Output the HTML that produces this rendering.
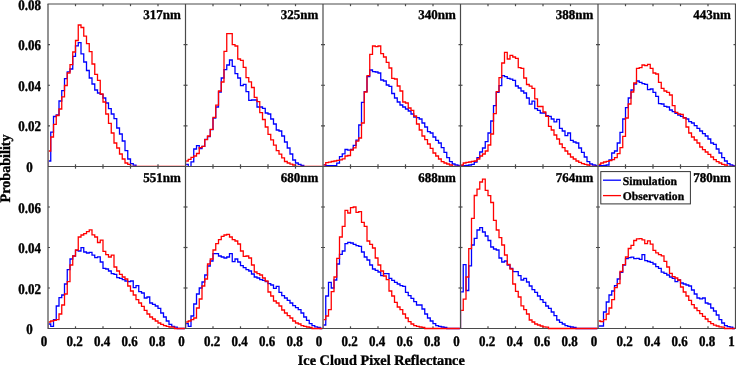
<!DOCTYPE html>
<html><head><meta charset="utf-8"><style>
html,body{margin:0;padding:0;background:#fff;overflow:hidden;}
svg{display:block;will-change:transform;}
text{font-family:"Liberation Serif",serif;font-weight:bold;fill:#000;stroke:#000;stroke-width:0.35px;text-rendering:geometricPrecision;}
.tk{font-size:13px;}
.lab{font-size:14.6px;}
.lg{font-size:11.8px;}
</style></head><body>
<svg width="736" height="365" viewBox="0 0 736 365">
<defs><clipPath id="c0"><rect x="48.65" y="4.0" width="136.2" height="163.0"/></clipPath>
<clipPath id="c1"><rect x="186.15" y="4.0" width="136.2" height="163.0"/></clipPath>
<clipPath id="c2"><rect x="323.65" y="4.0" width="136.2" height="163.0"/></clipPath>
<clipPath id="c3"><rect x="461.15" y="4.0" width="136.2" height="163.0"/></clipPath>
<clipPath id="c4"><rect x="598.65" y="4.0" width="136.2" height="163.0"/></clipPath>
<clipPath id="c5"><rect x="48.65" y="166.5" width="136.2" height="163.5"/></clipPath>
<clipPath id="c6"><rect x="186.15" y="166.5" width="136.2" height="163.5"/></clipPath>
<clipPath id="c7"><rect x="323.65" y="166.5" width="136.2" height="163.5"/></clipPath>
<clipPath id="c8"><rect x="461.15" y="166.5" width="136.2" height="163.5"/></clipPath>
<clipPath id="c9"><rect x="598.65" y="166.5" width="136.2" height="163.5"/></clipPath></defs>
<g>
<rect width="736" height="365" fill="#fff"/>
<line x1="48" y1="328.5" x2="735.5" y2="328.5" stroke="#4a4a4a" stroke-width="1.2"/>
<line x1="75.5" y1="328.5" x2="75.5" y2="326.3" stroke="#4a4a4a" stroke-width="1.2"/>
<line x1="103.0" y1="328.5" x2="103.0" y2="326.3" stroke="#4a4a4a" stroke-width="1.2"/>
<line x1="130.5" y1="328.5" x2="130.5" y2="326.3" stroke="#4a4a4a" stroke-width="1.2"/>
<line x1="158.0" y1="328.5" x2="158.0" y2="326.3" stroke="#4a4a4a" stroke-width="1.2"/>
<line x1="213.0" y1="328.5" x2="213.0" y2="326.3" stroke="#4a4a4a" stroke-width="1.2"/>
<line x1="240.5" y1="328.5" x2="240.5" y2="326.3" stroke="#4a4a4a" stroke-width="1.2"/>
<line x1="268.0" y1="328.5" x2="268.0" y2="326.3" stroke="#4a4a4a" stroke-width="1.2"/>
<line x1="295.5" y1="328.5" x2="295.5" y2="326.3" stroke="#4a4a4a" stroke-width="1.2"/>
<line x1="350.5" y1="328.5" x2="350.5" y2="326.3" stroke="#4a4a4a" stroke-width="1.2"/>
<line x1="378.0" y1="328.5" x2="378.0" y2="326.3" stroke="#4a4a4a" stroke-width="1.2"/>
<line x1="405.5" y1="328.5" x2="405.5" y2="326.3" stroke="#4a4a4a" stroke-width="1.2"/>
<line x1="433.0" y1="328.5" x2="433.0" y2="326.3" stroke="#4a4a4a" stroke-width="1.2"/>
<line x1="488.0" y1="328.5" x2="488.0" y2="326.3" stroke="#4a4a4a" stroke-width="1.2"/>
<line x1="515.5" y1="328.5" x2="515.5" y2="326.3" stroke="#4a4a4a" stroke-width="1.2"/>
<line x1="543.0" y1="328.5" x2="543.0" y2="326.3" stroke="#4a4a4a" stroke-width="1.2"/>
<line x1="570.5" y1="328.5" x2="570.5" y2="326.3" stroke="#4a4a4a" stroke-width="1.2"/>
<line x1="625.5" y1="328.5" x2="625.5" y2="326.3" stroke="#4a4a4a" stroke-width="1.2"/>
<line x1="653.0" y1="328.5" x2="653.0" y2="326.3" stroke="#4a4a4a" stroke-width="1.2"/>
<line x1="680.5" y1="328.5" x2="680.5" y2="326.3" stroke="#4a4a4a" stroke-width="1.2"/>
<line x1="708.0" y1="328.5" x2="708.0" y2="326.3" stroke="#4a4a4a" stroke-width="1.2"/>
<g clip-path="url(#c0)">
<polyline points="48.00,166.60 48.00,161.00 50.75,161.00 50.75,132.20 53.50,132.20 53.50,116.50 56.25,116.50 56.25,115.00 59.00,115.00 59.00,101.00 61.75,101.00 61.75,90.60 64.50,90.60 64.50,78.70 67.25,78.70 67.25,71.80 70.00,71.80 70.00,69.00 72.75,69.00 72.75,56.40 75.50,56.40 75.50,45.90 78.25,45.90 78.25,42.60 81.00,42.60 81.00,53.80 83.75,53.80 83.75,62.00 86.50,62.00 86.50,70.50 89.25,70.50 89.25,78.00 92.00,78.00 92.00,84.00 94.75,84.00 94.75,90.00 97.50,90.00 97.50,93.00 100.25,93.00 100.25,94.40 103.00,94.40 103.00,98.00 105.75,98.00 105.75,103.00 108.50,103.00 108.50,108.70 111.25,108.70 111.25,114.00 114.00,114.00 114.00,118.70 116.75,118.70 116.75,128.00 119.50,128.00 119.50,134.00 122.25,134.00 122.25,141.00 125.00,141.00 125.00,150.60 127.75,150.60 127.75,159.00 130.50,159.00 130.50,163.60 133.25,163.60 133.25,165.20 136.00,165.20 136.00,166.60 138.75,166.60 138.75,166.60 141.50,166.60 141.50,166.60 144.25,166.60 144.25,166.60 147.00,166.60 147.00,166.60 149.75,166.60 149.75,166.60 152.50,166.60 152.50,166.60 155.25,166.60 155.25,166.60 158.00,166.60 158.00,166.60 160.75,166.60 160.75,166.60 163.50,166.60 163.50,166.60 166.25,166.60 166.25,166.60 169.00,166.60 169.00,166.60 171.75,166.60 171.75,166.60 174.50,166.60 174.50,166.60 177.25,166.60 177.25,166.60 180.00,166.60 180.00,166.60 182.75,166.60 182.75,166.60 185.50,166.60 185.50,166.60" fill="none" stroke="#0000ff" stroke-width="1.3" stroke-linejoin="miter" stroke-miterlimit="10"/>
<polyline points="48.00,166.30 48.00,151.00 50.75,151.00 50.75,137.00 53.50,137.00 53.50,124.40 56.25,124.40 56.25,115.50 59.00,115.50 59.00,109.00 61.75,109.00 61.75,96.80 64.50,96.80 64.50,85.50 67.25,85.50 67.25,73.00 70.00,73.00 70.00,64.60 72.75,64.60 72.75,52.00 75.50,52.00 75.50,40.50 78.25,40.50 78.25,25.00 81.00,25.00 81.00,27.50 83.75,27.50 83.75,36.20 86.50,36.20 86.50,43.60 89.25,43.60 89.25,51.60 92.00,51.60 92.00,64.00 94.75,64.00 94.75,74.40 97.50,74.40 97.50,80.40 100.25,80.40 100.25,94.00 103.00,94.00 103.00,102.00 105.75,102.00 105.75,114.00 108.50,114.00 108.50,123.30 111.25,123.30 111.25,133.00 114.00,133.00 114.00,143.00 116.75,143.00 116.75,148.00 119.50,148.00 119.50,154.00 122.25,154.00 122.25,159.00 125.00,159.00 125.00,163.00 127.75,163.00 127.75,164.40 130.50,164.40 130.50,166.30 133.25,166.30 133.25,166.30 136.00,166.30 136.00,166.30 138.75,166.30 138.75,166.30 141.50,166.30 141.50,166.30 144.25,166.30 144.25,166.30 147.00,166.30 147.00,166.30 149.75,166.30 149.75,166.30 152.50,166.30 152.50,166.30 155.25,166.30 155.25,166.30 158.00,166.30 158.00,166.30 160.75,166.30 160.75,166.30 163.50,166.30 163.50,166.30 166.25,166.30 166.25,166.30 169.00,166.30 169.00,166.30 171.75,166.30 171.75,166.30 174.50,166.30 174.50,166.30 177.25,166.30 177.25,166.30 180.00,166.30 180.00,166.30 182.75,166.30 182.75,166.30 185.50,166.30 185.50,166.30" fill="none" stroke="#ff0000" stroke-width="1.3" stroke-linejoin="miter" stroke-miterlimit="10"/>
</g>
<g clip-path="url(#c1)">
<polyline points="185.50,166.60 185.50,164.40 188.25,164.40 188.25,166.60 191.00,166.60 191.00,161.80 193.75,161.80 193.75,149.00 196.50,149.00 196.50,145.70 199.25,145.70 199.25,148.60 202.00,148.60 202.00,146.40 204.75,146.40 204.75,139.30 207.50,139.30 207.50,136.70 210.25,136.70 210.25,129.70 213.00,129.70 213.00,118.20 215.75,118.20 215.75,107.00 218.50,107.00 218.50,92.00 221.25,92.00 221.25,78.00 224.00,78.00 224.00,69.60 226.75,69.60 226.75,65.00 229.50,65.00 229.50,60.00 232.25,60.00 232.25,66.40 235.00,66.40 235.00,73.60 237.75,73.60 237.75,78.00 240.50,78.00 240.50,85.60 243.25,85.60 243.25,84.40 246.00,84.40 246.00,91.60 248.75,91.60 248.75,100.40 251.50,100.40 251.50,100.00 254.25,100.00 254.25,100.00 257.00,100.00 257.00,107.00 259.75,107.00 259.75,107.00 262.50,107.00 262.50,108.40 265.25,108.40 265.25,113.00 268.00,113.00 268.00,114.00 270.75,114.00 270.75,119.00 273.50,119.00 273.50,124.00 276.25,124.00 276.25,130.00 279.00,130.00 279.00,131.00 281.75,131.00 281.75,136.00 284.50,136.00 284.50,142.00 287.25,142.00 287.25,148.00 290.00,148.00 290.00,154.00 292.75,154.00 292.75,160.00 295.50,160.00 295.50,163.00 298.25,163.00 298.25,164.40 301.00,164.40 301.00,165.40 303.75,165.40 303.75,166.60 306.50,166.60 306.50,166.60 309.25,166.60 309.25,166.60 312.00,166.60 312.00,166.60 314.75,166.60 314.75,166.60 317.50,166.60 317.50,166.60 320.25,166.60 320.25,166.60 323.00,166.60 323.00,166.60" fill="none" stroke="#0000ff" stroke-width="1.3" stroke-linejoin="miter" stroke-miterlimit="10"/>
<polyline points="185.50,166.30 185.50,161.00 188.25,161.00 188.25,159.30 191.00,159.30 191.00,157.30 193.75,157.30 193.75,156.00 196.50,156.00 196.50,153.50 199.25,153.50 199.25,147.70 202.00,147.70 202.00,146.40 204.75,146.40 204.75,139.60 207.50,139.60 207.50,136.00 210.25,136.00 210.25,129.30 213.00,129.30 213.00,117.30 215.75,117.30 215.75,105.10 218.50,105.10 218.50,91.00 221.25,91.00 221.25,82.00 224.00,82.00 224.00,51.40 226.75,51.40 226.75,33.60 229.50,33.60 229.50,33.60 232.25,33.60 232.25,44.60 235.00,44.60 235.00,46.00 237.75,46.00 237.75,59.00 240.50,59.00 240.50,60.40 243.25,60.40 243.25,67.40 246.00,67.40 246.00,77.60 248.75,77.60 248.75,81.80 251.50,81.80 251.50,87.50 254.25,87.50 254.25,97.30 257.00,97.30 257.00,101.60 259.75,101.60 259.75,112.70 262.50,112.70 262.50,119.50 265.25,119.50 265.25,127.00 268.00,127.00 268.00,134.40 270.75,134.40 270.75,139.80 273.50,139.80 273.50,145.20 276.25,145.20 276.25,150.60 279.00,150.60 279.00,154.20 281.75,154.20 281.75,157.90 284.50,157.90 284.50,161.50 287.25,161.50 287.25,163.00 290.00,163.00 290.00,164.20 292.75,164.20 292.75,165.00 295.50,165.00 295.50,166.30 298.25,166.30 298.25,166.30 301.00,166.30 301.00,166.30 303.75,166.30 303.75,166.30 306.50,166.30 306.50,166.30 309.25,166.30 309.25,166.30 312.00,166.30 312.00,166.30 314.75,166.30 314.75,166.30 317.50,166.30 317.50,166.30 320.25,166.30 320.25,166.30 323.00,166.30 323.00,166.30" fill="none" stroke="#ff0000" stroke-width="1.3" stroke-linejoin="miter" stroke-miterlimit="10"/>
</g>
<g clip-path="url(#c2)">
<polyline points="323.00,166.60 323.00,164.80 325.75,164.80 325.75,165.60 328.50,165.60 328.50,165.60 331.25,165.60 331.25,165.60 334.00,165.60 334.00,165.60 336.75,165.60 336.75,163.20 339.50,163.20 339.50,156.60 342.25,156.60 342.25,153.80 345.00,153.80 345.00,149.50 347.75,149.50 347.75,150.20 350.50,150.20 350.50,149.50 353.25,149.50 353.25,145.40 356.00,145.40 356.00,140.20 358.75,140.20 358.75,125.00 361.50,125.00 361.50,102.40 364.25,102.40 364.25,91.60 367.00,91.60 367.00,76.60 369.75,76.60 369.75,70.00 372.50,70.00 372.50,71.60 375.25,71.60 375.25,72.00 378.00,72.00 378.00,73.00 380.75,73.00 380.75,80.00 383.50,80.00 383.50,81.00 386.25,81.00 386.25,85.00 389.00,85.00 389.00,86.40 391.75,86.40 391.75,93.50 394.50,93.50 394.50,98.00 397.25,98.00 397.25,102.00 400.00,102.00 400.00,105.00 402.75,105.00 402.75,107.00 405.50,107.00 405.50,109.00 408.25,109.00 408.25,111.00 411.00,111.00 411.00,114.00 413.75,114.00 413.75,117.00 416.50,117.00 416.50,117.60 419.25,117.60 419.25,119.00 422.00,119.00 422.00,123.00 424.75,123.00 424.75,127.00 427.50,127.00 427.50,131.60 430.25,131.60 430.25,133.00 433.00,133.00 433.00,137.00 435.75,137.00 435.75,140.40 438.50,140.40 438.50,143.00 441.25,143.00 441.25,147.60 444.00,147.60 444.00,152.40 446.75,152.40 446.75,157.60 449.50,157.60 449.50,161.60 452.25,161.60 452.25,164.00 455.00,164.00 455.00,165.00 457.75,165.00 457.75,165.40 460.50,165.40 460.50,166.60" fill="none" stroke="#0000ff" stroke-width="1.3" stroke-linejoin="miter" stroke-miterlimit="10"/>
<polyline points="323.00,166.30 323.00,164.80 325.75,164.80 325.75,162.60 328.50,162.60 328.50,162.10 331.25,162.10 331.25,161.50 334.00,161.50 334.00,161.00 336.75,161.00 336.75,160.40 339.50,160.40 339.50,159.90 342.25,159.90 342.25,158.80 345.00,158.80 345.00,156.00 347.75,156.00 347.75,155.50 350.50,155.50 350.50,150.00 353.25,150.00 353.25,147.80 356.00,147.80 356.00,141.20 358.75,141.20 358.75,138.00 361.50,138.00 361.50,123.00 364.25,123.00 364.25,92.00 367.00,92.00 367.00,75.60 369.75,75.60 369.75,54.40 372.50,54.40 372.50,46.00 375.25,46.00 375.25,46.60 378.00,46.60 378.00,46.00 380.75,46.00 380.75,53.60 383.50,53.60 383.50,57.00 386.25,57.00 386.25,62.40 389.00,62.40 389.00,68.00 391.75,68.00 391.75,78.40 394.50,78.40 394.50,79.00 397.25,79.00 397.25,86.00 400.00,86.00 400.00,91.00 402.75,91.00 402.75,102.00 405.50,102.00 405.50,103.00 408.25,103.00 408.25,108.00 411.00,108.00 411.00,110.40 413.75,110.40 413.75,116.00 416.50,116.00 416.50,124.00 419.25,124.00 419.25,130.00 422.00,130.00 422.00,136.00 424.75,136.00 424.75,139.60 427.50,139.60 427.50,144.00 430.25,144.00 430.25,148.40 433.00,148.40 433.00,153.00 435.75,153.00 435.75,156.00 438.50,156.00 438.50,159.00 441.25,159.00 441.25,161.60 444.00,161.60 444.00,163.00 446.75,163.00 446.75,164.00 449.50,164.00 449.50,165.00 452.25,165.00 452.25,166.30 455.00,166.30 455.00,166.30 457.75,166.30 457.75,166.30 460.50,166.30 460.50,166.30" fill="none" stroke="#ff0000" stroke-width="1.3" stroke-linejoin="miter" stroke-miterlimit="10"/>
</g>
<g clip-path="url(#c3)">
<polyline points="460.50,166.60 460.50,165.60 463.25,165.60 463.25,165.60 466.00,165.60 466.00,165.40 468.75,165.40 468.75,165.00 471.50,165.00 471.50,164.40 474.25,164.40 474.25,162.00 477.00,162.00 477.00,157.60 479.75,157.60 479.75,152.00 482.50,152.00 482.50,148.00 485.25,148.00 485.25,141.60 488.00,141.60 488.00,133.00 490.75,133.00 490.75,121.00 493.50,121.00 493.50,105.60 496.25,105.60 496.25,92.40 499.00,92.40 499.00,85.60 501.75,85.60 501.75,75.60 504.50,75.60 504.50,76.60 507.25,76.60 507.25,78.40 510.00,78.40 510.00,79.20 512.75,79.20 512.75,80.40 515.50,80.40 515.50,86.00 518.25,86.00 518.25,88.00 521.00,88.00 521.00,91.00 523.75,91.00 523.75,93.00 526.50,93.00 526.50,98.00 529.25,98.00 529.25,104.20 532.00,104.20 532.00,101.20 534.75,101.20 534.75,108.60 537.50,108.60 537.50,110.30 540.25,110.30 540.25,113.00 543.00,113.00 543.00,113.00 545.75,113.00 545.75,115.70 548.50,115.70 548.50,116.40 551.25,116.40 551.25,119.00 554.00,119.00 554.00,121.80 556.75,121.80 556.75,119.30 559.50,119.30 559.50,128.40 562.25,128.40 562.25,131.00 565.00,131.00 565.00,135.60 567.75,135.60 567.75,133.00 570.50,133.00 570.50,140.40 573.25,140.40 573.25,142.00 576.00,142.00 576.00,143.00 578.75,143.00 578.75,148.00 581.50,148.00 581.50,152.40 584.25,152.40 584.25,157.00 587.00,157.00 587.00,161.60 589.75,161.60 589.75,164.00 592.50,164.00 592.50,165.00 595.25,165.00 595.25,165.40 598.00,165.40 598.00,166.60" fill="none" stroke="#0000ff" stroke-width="1.3" stroke-linejoin="miter" stroke-miterlimit="10"/>
<polyline points="460.50,166.30 460.50,165.00 463.25,165.00 463.25,163.00 466.00,163.00 466.00,162.40 468.75,162.40 468.75,162.00 471.50,162.00 471.50,161.40 474.25,161.40 474.25,161.00 477.00,161.00 477.00,159.00 479.75,159.00 479.75,156.00 482.50,156.00 482.50,154.00 485.25,154.00 485.25,151.00 488.00,151.00 488.00,145.00 490.75,145.00 490.75,134.00 493.50,134.00 493.50,113.60 496.25,113.60 496.25,91.60 499.00,91.60 499.00,77.60 501.75,77.60 501.75,63.00 504.50,63.00 504.50,52.40 507.25,52.40 507.25,59.00 510.00,59.00 510.00,55.40 512.75,55.40 512.75,57.00 515.50,57.00 515.50,58.40 518.25,58.40 518.25,67.60 521.00,67.60 521.00,68.40 523.75,68.40 523.75,78.00 526.50,78.00 526.50,84.50 529.25,84.50 529.25,86.10 532.00,86.10 532.00,88.40 534.75,88.40 534.75,98.80 537.50,98.80 537.50,106.50 540.25,106.50 540.25,106.50 543.00,106.50 543.00,112.00 545.75,112.00 545.75,116.40 548.50,116.40 548.50,126.40 551.25,126.40 551.25,130.00 554.00,130.00 554.00,135.00 556.75,135.00 556.75,139.00 559.50,139.00 559.50,144.00 562.25,144.00 562.25,147.60 565.00,147.60 565.00,151.00 567.75,151.00 567.75,154.00 570.50,154.00 570.50,157.00 573.25,157.00 573.25,159.00 576.00,159.00 576.00,161.00 578.75,161.00 578.75,162.40 581.50,162.40 581.50,163.60 584.25,163.60 584.25,164.40 587.00,164.40 587.00,165.00 589.75,165.00 589.75,166.30 592.50,166.30 592.50,166.30 595.25,166.30 595.25,166.30 598.00,166.30 598.00,166.30" fill="none" stroke="#ff0000" stroke-width="1.3" stroke-linejoin="miter" stroke-miterlimit="10"/>
</g>
<g clip-path="url(#c4)">
<polyline points="598.00,166.60 598.00,165.60 600.75,165.60 600.75,165.60 603.50,165.60 603.50,165.40 606.25,165.40 606.25,165.00 609.00,165.00 609.00,160.00 611.75,160.00 611.75,153.00 614.50,153.00 614.50,151.00 617.25,151.00 617.25,143.00 620.00,143.00 620.00,132.40 622.75,132.40 622.75,119.00 625.50,119.00 625.50,107.60 628.25,107.60 628.25,98.00 631.00,98.00 631.00,90.00 633.75,90.00 633.75,84.00 636.50,84.00 636.50,81.00 639.25,81.00 639.25,82.40 642.00,82.40 642.00,83.60 644.75,83.60 644.75,84.40 647.50,84.40 647.50,89.60 650.25,89.60 650.25,89.00 653.00,89.00 653.00,92.40 655.75,92.40 655.75,96.40 658.50,96.40 658.50,103.60 661.25,103.60 661.25,104.00 664.00,104.00 664.00,106.40 666.75,106.40 666.75,107.00 669.50,107.00 669.50,110.00 672.25,110.00 672.25,111.60 675.00,111.60 675.00,113.40 677.75,113.40 677.75,115.00 680.50,115.00 680.50,116.40 683.25,116.40 683.25,117.60 686.00,117.60 686.00,119.00 688.75,119.00 688.75,121.60 691.50,121.60 691.50,123.00 694.25,123.00 694.25,125.60 697.00,125.60 697.00,128.40 699.75,128.40 699.75,131.00 702.50,131.00 702.50,133.60 705.25,133.60 705.25,136.00 708.00,136.00 708.00,139.00 710.75,139.00 710.75,143.00 713.50,143.00 713.50,144.40 716.25,144.40 716.25,149.00 719.00,149.00 719.00,153.00 721.75,153.00 721.75,157.60 724.50,157.60 724.50,161.00 727.25,161.00 727.25,163.60 730.00,163.60 730.00,165.00 732.75,165.00 732.75,165.60 735.50,165.60 735.50,166.60" fill="none" stroke="#0000ff" stroke-width="1.3" stroke-linejoin="miter" stroke-miterlimit="10"/>
<polyline points="598.00,166.30 598.00,164.40 600.75,164.40 600.75,163.00 603.50,163.00 603.50,162.00 606.25,162.00 606.25,161.40 609.00,161.40 609.00,160.60 611.75,160.60 611.75,159.60 614.50,159.60 614.50,157.60 617.25,157.60 617.25,153.60 620.00,153.60 620.00,147.60 622.75,147.60 622.75,136.40 625.50,136.40 625.50,118.00 628.25,118.00 628.25,104.00 631.00,104.00 631.00,92.00 633.75,92.00 633.75,83.00 636.50,83.00 636.50,68.40 639.25,68.40 639.25,67.60 642.00,67.60 642.00,65.00 644.75,65.00 644.75,65.60 647.50,65.60 647.50,64.40 650.25,64.40 650.25,68.40 653.00,68.40 653.00,73.00 655.75,73.00 655.75,74.00 658.50,74.00 658.50,82.40 661.25,82.40 661.25,88.40 664.00,88.40 664.00,91.00 666.75,91.00 666.75,92.40 669.50,92.40 669.50,95.00 672.25,95.00 672.25,105.60 675.00,105.60 675.00,112.40 677.75,112.40 677.75,114.00 680.50,114.00 680.50,114.40 683.25,114.40 683.25,118.00 686.00,118.00 686.00,127.00 688.75,127.00 688.75,133.00 691.50,133.00 691.50,137.00 694.25,137.00 694.25,140.00 697.00,140.00 697.00,143.00 699.75,143.00 699.75,147.00 702.50,147.00 702.50,149.60 705.25,149.60 705.25,152.00 708.00,152.00 708.00,154.40 710.75,154.40 710.75,157.00 713.50,157.00 713.50,159.60 716.25,159.60 716.25,161.60 719.00,161.60 719.00,163.00 721.75,163.00 721.75,164.40 724.50,164.40 724.50,165.00 727.25,165.00 727.25,166.30 730.00,166.30 730.00,166.30 732.75,166.30 732.75,166.30 735.50,166.30 735.50,166.30" fill="none" stroke="#ff0000" stroke-width="1.3" stroke-linejoin="miter" stroke-miterlimit="10"/>
</g>
<g clip-path="url(#c5)">
<polyline points="48.00,328.50 48.00,324.00 50.75,324.00 50.75,326.40 53.50,326.40 53.50,319.60 56.25,319.60 56.25,306.00 59.00,306.00 59.00,297.60 61.75,297.60 61.75,295.00 64.50,295.00 64.50,284.00 67.25,284.00 67.25,269.60 70.00,269.60 70.00,259.00 72.75,259.00 72.75,256.00 75.50,256.00 75.50,250.40 78.25,250.40 78.25,251.00 81.00,251.00 81.00,247.60 83.75,247.60 83.75,252.00 86.50,252.00 86.50,253.00 89.25,253.00 89.25,252.40 92.00,252.40 92.00,255.10 94.75,255.10 94.75,257.70 97.50,257.70 97.50,256.80 100.25,256.80 100.25,262.00 103.00,262.00 103.00,268.40 105.75,268.40 105.75,269.00 108.50,269.00 108.50,271.00 111.25,271.00 111.25,273.60 114.00,273.60 114.00,274.40 116.75,274.40 116.75,277.60 119.50,277.60 119.50,278.40 122.25,278.40 122.25,279.60 125.00,279.60 125.00,281.00 127.75,281.00 127.75,281.60 130.50,281.60 130.50,281.00 133.25,281.00 133.25,287.60 136.00,287.60 136.00,285.60 138.75,285.60 138.75,291.60 141.50,291.60 141.50,293.00 144.25,293.00 144.25,298.00 147.00,298.00 147.00,297.00 149.75,297.00 149.75,303.00 152.50,303.00 152.50,304.40 155.25,304.40 155.25,306.00 158.00,306.00 158.00,308.40 160.75,308.40 160.75,313.00 163.50,313.00 163.50,317.00 166.25,317.00 166.25,321.00 169.00,321.00 169.00,324.40 171.75,324.40 171.75,326.40 174.50,326.40 174.50,327.20 177.25,327.20 177.25,328.50 180.00,328.50 180.00,328.50 182.75,328.50 182.75,328.50 185.50,328.50 185.50,328.50" fill="none" stroke="#0000ff" stroke-width="1.3" stroke-linejoin="miter" stroke-miterlimit="10"/>
<polyline points="48.00,328.50 48.00,322.00 50.75,322.00 50.75,321.00 53.50,321.00 53.50,320.40 56.25,320.40 56.25,319.60 59.00,319.60 59.00,314.00 61.75,314.00 61.75,305.00 64.50,305.00 64.50,294.00 67.25,294.00 67.25,281.60 70.00,281.60 70.00,265.00 72.75,265.00 72.75,256.00 75.50,256.00 75.50,250.00 78.25,250.00 78.25,237.00 81.00,237.00 81.00,235.00 83.75,235.00 83.75,233.60 86.50,233.60 86.50,231.60 89.25,231.60 89.25,229.90 92.00,229.90 92.00,234.90 94.75,234.90 94.75,237.00 97.50,237.00 97.50,242.50 100.25,242.50 100.25,240.10 103.00,240.10 103.00,251.30 105.75,251.30 105.75,254.60 108.50,254.60 108.50,257.00 111.25,257.00 111.25,255.10 114.00,255.10 114.00,267.00 116.75,267.00 116.75,271.00 119.50,271.00 119.50,274.40 122.25,274.40 122.25,277.00 125.00,277.00 125.00,279.00 127.75,279.00 127.75,286.00 130.50,286.00 130.50,291.00 133.25,291.00 133.25,295.00 136.00,295.00 136.00,299.60 138.75,299.60 138.75,303.00 141.50,303.00 141.50,306.40 144.25,306.40 144.25,310.40 147.00,310.40 147.00,314.00 149.75,314.00 149.75,317.00 152.50,317.00 152.50,319.00 155.25,319.00 155.25,321.00 158.00,321.00 158.00,323.00 160.75,323.00 160.75,324.40 163.50,324.40 163.50,325.60 166.25,325.60 166.25,326.40 169.00,326.40 169.00,327.00 171.75,327.00 171.75,327.20 174.50,327.20 174.50,328.50 177.25,328.50 177.25,328.50 180.00,328.50 180.00,328.50 182.75,328.50 182.75,328.50 185.50,328.50 185.50,328.50" fill="none" stroke="#ff0000" stroke-width="1.3" stroke-linejoin="miter" stroke-miterlimit="10"/>
</g>
<g clip-path="url(#c6)">
<polyline points="185.50,328.50 185.50,323.60 188.25,323.60 188.25,326.40 191.00,326.40 191.00,316.00 193.75,316.00 193.75,304.00 196.50,304.00 196.50,294.00 199.25,294.00 199.25,288.00 202.00,288.00 202.00,282.00 204.75,282.00 204.75,275.00 207.50,275.00 207.50,266.00 210.25,266.00 210.25,261.00 213.00,261.00 213.00,253.60 215.75,253.60 215.75,253.60 218.50,253.60 218.50,256.00 221.25,256.00 221.25,257.00 224.00,257.00 224.00,258.00 226.75,258.00 226.75,257.00 229.50,257.00 229.50,253.60 232.25,253.60 232.25,261.60 235.00,261.60 235.00,259.00 237.75,259.00 237.75,262.00 240.50,262.00 240.50,265.60 243.25,265.60 243.25,267.60 246.00,267.60 246.00,269.60 248.75,269.60 248.75,271.00 251.50,271.00 251.50,274.00 254.25,274.00 254.25,277.00 257.00,277.00 257.00,278.00 259.75,278.00 259.75,279.60 262.50,279.60 262.50,280.40 265.25,280.40 265.25,281.60 268.00,281.60 268.00,283.60 270.75,283.60 270.75,285.00 273.50,285.00 273.50,288.40 276.25,288.40 276.25,286.40 279.00,286.40 279.00,292.40 281.75,292.40 281.75,295.60 284.50,295.60 284.50,298.00 287.25,298.00 287.25,300.40 290.00,300.40 290.00,303.00 292.75,303.00 292.75,305.60 295.50,305.60 295.50,307.60 298.25,307.60 298.25,309.60 301.00,309.60 301.00,313.00 303.75,313.00 303.75,317.00 306.50,317.00 306.50,320.40 309.25,320.40 309.25,323.60 312.00,323.60 312.00,325.60 314.75,325.60 314.75,326.80 317.50,326.80 317.50,327.40 320.25,327.40 320.25,328.50 323.00,328.50 323.00,328.50" fill="none" stroke="#0000ff" stroke-width="1.3" stroke-linejoin="miter" stroke-miterlimit="10"/>
<polyline points="185.50,328.50 185.50,322.00 188.25,322.00 188.25,321.00 191.00,321.00 191.00,319.60 193.75,319.60 193.75,318.00 196.50,318.00 196.50,308.00 199.25,308.00 199.25,299.00 202.00,299.00 202.00,286.00 204.75,286.00 204.75,279.00 207.50,279.00 207.50,264.00 210.25,264.00 210.25,259.00 213.00,259.00 213.00,250.00 215.75,250.00 215.75,243.60 218.50,243.60 218.50,239.60 221.25,239.60 221.25,236.40 224.00,236.40 224.00,235.00 226.75,235.00 226.75,234.40 229.50,234.40 229.50,237.00 232.25,237.00 232.25,239.60 235.00,239.60 235.00,241.00 237.75,241.00 237.75,244.00 240.50,244.00 240.50,251.00 243.25,251.00 243.25,256.40 246.00,256.40 246.00,256.00 248.75,256.00 248.75,258.00 251.50,258.00 251.50,265.00 254.25,265.00 254.25,272.00 257.00,272.00 257.00,273.60 259.75,273.60 259.75,275.00 262.50,275.00 262.50,278.00 265.25,278.00 265.25,281.00 268.00,281.00 268.00,292.00 270.75,292.00 270.75,296.00 273.50,296.00 273.50,301.00 276.25,301.00 276.25,303.00 279.00,303.00 279.00,306.00 281.75,306.00 281.75,310.00 284.50,310.00 284.50,313.00 287.25,313.00 287.25,315.60 290.00,315.60 290.00,318.00 292.75,318.00 292.75,321.00 295.50,321.00 295.50,323.00 298.25,323.00 298.25,324.00 301.00,324.00 301.00,325.60 303.75,325.60 303.75,326.40 306.50,326.40 306.50,327.00 309.25,327.00 309.25,327.40 312.00,327.40 312.00,328.50 314.75,328.50 314.75,328.50 317.50,328.50 317.50,328.50 320.25,328.50 320.25,328.50 323.00,328.50 323.00,328.50" fill="none" stroke="#ff0000" stroke-width="1.3" stroke-linejoin="miter" stroke-miterlimit="10"/>
</g>
<g clip-path="url(#c7)">
<polyline points="323.00,328.50 323.00,325.00 325.75,325.00 325.75,296.00 328.50,296.00 328.50,282.40 331.25,282.40 331.25,288.00 334.00,288.00 334.00,280.00 336.75,280.00 336.75,264.00 339.50,264.00 339.50,254.40 342.25,254.40 342.25,251.00 345.00,251.00 345.00,243.60 347.75,243.60 347.75,242.40 350.50,242.40 350.50,243.00 353.25,243.00 353.25,244.40 356.00,244.40 356.00,245.60 358.75,245.60 358.75,246.40 361.50,246.40 361.50,252.00 364.25,252.00 364.25,257.00 367.00,257.00 367.00,260.00 369.75,260.00 369.75,265.00 372.50,265.00 372.50,269.00 375.25,269.00 375.25,270.40 378.00,270.40 378.00,272.00 380.75,272.00 380.75,275.60 383.50,275.60 383.50,273.60 386.25,273.60 386.25,273.60 389.00,273.60 389.00,278.40 391.75,278.40 391.75,280.40 394.50,280.40 394.50,282.40 397.25,282.40 397.25,284.00 400.00,284.00 400.00,285.60 402.75,285.60 402.75,286.40 405.50,286.40 405.50,292.40 408.25,292.40 408.25,295.60 411.00,295.60 411.00,298.40 413.75,298.40 413.75,301.60 416.50,301.60 416.50,305.00 419.25,305.00 419.25,305.00 422.00,305.00 422.00,309.00 424.75,309.00 424.75,314.00 427.50,314.00 427.50,318.00 430.25,318.00 430.25,321.00 433.00,321.00 433.00,323.60 435.75,323.60 435.75,325.60 438.50,325.60 438.50,326.40 441.25,326.40 441.25,327.00 444.00,327.00 444.00,327.40 446.75,327.40 446.75,328.50 449.50,328.50 449.50,328.50 452.25,328.50 452.25,328.50 455.00,328.50 455.00,328.50 457.75,328.50 457.75,328.50 460.50,328.50 460.50,328.50" fill="none" stroke="#0000ff" stroke-width="1.3" stroke-linejoin="miter" stroke-miterlimit="10"/>
<polyline points="323.00,328.50 323.00,319.60 325.75,319.60 325.75,316.00 328.50,316.00 328.50,309.60 331.25,309.60 331.25,291.60 334.00,291.60 334.00,277.00 336.75,277.00 336.75,258.40 339.50,258.40 339.50,237.00 342.25,237.00 342.25,226.40 345.00,226.40 345.00,210.40 347.75,210.40 347.75,213.00 350.50,213.00 350.50,207.60 353.25,207.60 353.25,207.00 356.00,207.00 356.00,212.40 358.75,212.40 358.75,211.60 361.50,211.60 361.50,222.40 364.25,222.40 364.25,226.40 367.00,226.40 367.00,241.00 369.75,241.00 369.75,244.40 372.50,244.40 372.50,248.00 375.25,248.00 375.25,258.00 378.00,258.00 378.00,265.00 380.75,265.00 380.75,271.00 383.50,271.00 383.50,276.00 386.25,276.00 386.25,279.60 389.00,279.60 389.00,291.00 391.75,291.00 391.75,296.00 394.50,296.00 394.50,302.40 397.25,302.40 397.25,307.00 400.00,307.00 400.00,309.60 402.75,309.60 402.75,314.00 405.50,314.00 405.50,318.00 408.25,318.00 408.25,321.60 411.00,321.60 411.00,324.00 413.75,324.00 413.75,325.60 416.50,325.60 416.50,326.40 419.25,326.40 419.25,327.00 422.00,327.00 422.00,327.40 424.75,327.40 424.75,328.50 427.50,328.50 427.50,328.50 430.25,328.50 430.25,328.50 433.00,328.50 433.00,328.50 435.75,328.50 435.75,328.50 438.50,328.50 438.50,328.50 441.25,328.50 441.25,328.50 444.00,328.50 444.00,328.50 446.75,328.50 446.75,328.50 449.50,328.50 449.50,328.50 452.25,328.50 452.25,328.50 455.00,328.50 455.00,328.50 457.75,328.50 457.75,328.50 460.50,328.50 460.50,328.50" fill="none" stroke="#ff0000" stroke-width="1.3" stroke-linejoin="miter" stroke-miterlimit="10"/>
</g>
<g clip-path="url(#c8)">
<polyline points="460.50,328.50 460.50,291.80 463.25,291.80 463.25,264.70 466.00,264.70 466.00,290.50 468.75,290.50 468.75,265.90 471.50,265.90 471.50,245.00 474.25,245.00 474.25,238.40 477.00,238.40 477.00,230.00 479.75,230.00 479.75,227.60 482.50,227.60 482.50,232.00 485.25,232.00 485.25,236.00 488.00,236.00 488.00,240.50 490.75,240.50 490.75,247.00 493.50,247.00 493.50,249.00 496.25,249.00 496.25,250.00 499.00,250.00 499.00,258.00 501.75,258.00 501.75,262.00 504.50,262.00 504.50,261.00 507.25,261.00 507.25,265.00 510.00,265.00 510.00,268.40 512.75,268.40 512.75,271.60 515.50,271.60 515.50,271.60 518.25,271.60 518.25,275.60 521.00,275.60 521.00,280.00 523.75,280.00 523.75,278.40 526.50,278.40 526.50,282.00 529.25,282.00 529.25,286.00 532.00,286.00 532.00,289.60 534.75,289.60 534.75,292.40 537.50,292.40 537.50,296.00 540.25,296.00 540.25,299.60 543.00,299.60 543.00,302.40 545.75,302.40 545.75,306.00 548.50,306.00 548.50,308.40 551.25,308.40 551.25,312.00 554.00,312.00 554.00,315.60 556.75,315.60 556.75,320.00 559.50,320.00 559.50,322.40 562.25,322.40 562.25,324.00 565.00,324.00 565.00,325.60 567.75,325.60 567.75,326.40 570.50,326.40 570.50,327.00 573.25,327.00 573.25,327.40 576.00,327.40 576.00,328.50 578.75,328.50 578.75,328.50 581.50,328.50 581.50,328.50 584.25,328.50 584.25,328.50 587.00,328.50 587.00,328.50 589.75,328.50 589.75,328.50 592.50,328.50 592.50,328.50 595.25,328.50 595.25,328.50 598.00,328.50 598.00,328.50" fill="none" stroke="#0000ff" stroke-width="1.3" stroke-linejoin="miter" stroke-miterlimit="10"/>
<polyline points="460.50,328.50 460.50,310.30 463.25,310.30 463.25,299.20 466.00,299.20 466.00,277.00 468.75,277.00 468.75,248.60 471.50,248.60 471.50,218.40 474.25,218.40 474.25,195.50 477.00,195.50 477.00,189.10 479.75,189.10 479.75,182.00 482.50,182.00 482.50,179.20 485.25,179.20 485.25,190.30 488.00,190.30 488.00,195.70 490.75,195.70 490.75,202.50 493.50,202.50 493.50,220.40 496.25,220.40 496.25,230.00 499.00,230.00 499.00,237.60 501.75,237.60 501.75,245.00 504.50,245.00 504.50,255.00 507.25,255.00 507.25,264.50 510.00,264.50 510.00,269.00 512.75,269.00 512.75,284.00 515.50,284.00 515.50,291.30 518.25,291.30 518.25,297.00 521.00,297.00 521.00,305.80 523.75,305.80 523.75,309.60 526.50,309.60 526.50,314.00 529.25,314.00 529.25,320.00 532.00,320.00 532.00,322.00 534.75,322.00 534.75,324.00 537.50,324.00 537.50,325.00 540.25,325.00 540.25,326.00 543.00,326.00 543.00,326.80 545.75,326.80 545.75,327.20 548.50,327.20 548.50,328.50 551.25,328.50 551.25,328.50 554.00,328.50 554.00,328.50 556.75,328.50 556.75,328.50 559.50,328.50 559.50,328.50 562.25,328.50 562.25,328.50 565.00,328.50 565.00,328.50 567.75,328.50 567.75,328.50 570.50,328.50 570.50,328.50 573.25,328.50 573.25,328.50 576.00,328.50 576.00,328.50 578.75,328.50 578.75,328.50 581.50,328.50 581.50,328.50 584.25,328.50 584.25,328.50 587.00,328.50 587.00,328.50 589.75,328.50 589.75,328.50 592.50,328.50 592.50,328.50 595.25,328.50 595.25,328.50 598.00,328.50 598.00,328.50" fill="none" stroke="#ff0000" stroke-width="1.3" stroke-linejoin="miter" stroke-miterlimit="10"/>
</g>
<g clip-path="url(#c9)">
<polyline points="598.00,328.50 598.00,326.00 600.75,326.00 600.75,326.00 603.50,326.00 603.50,312.00 606.25,312.00 606.25,302.00 609.00,302.00 609.00,295.00 611.75,295.00 611.75,291.00 614.50,291.00 614.50,285.60 617.25,285.60 617.25,279.00 620.00,279.00 620.00,272.40 622.75,272.40 622.75,265.00 625.50,265.00 625.50,258.70 628.25,258.70 628.25,257.70 631.00,257.70 631.00,257.10 633.75,257.10 633.75,258.60 636.50,258.60 636.50,258.30 639.25,258.30 639.25,259.30 642.00,259.30 642.00,254.60 644.75,254.60 644.75,260.60 647.50,260.60 647.50,261.50 650.25,261.50 650.25,262.40 653.00,262.40 653.00,264.00 655.75,264.00 655.75,266.60 658.50,266.60 658.50,268.30 661.25,268.30 661.25,272.20 664.00,272.20 664.00,273.40 666.75,273.40 666.75,275.00 669.50,275.00 669.50,277.00 672.25,277.00 672.25,278.40 675.00,278.40 675.00,281.60 677.75,281.60 677.75,280.00 680.50,280.00 680.50,283.00 683.25,283.00 683.25,284.00 686.00,284.00 686.00,285.00 688.75,285.00 688.75,286.00 691.50,286.00 691.50,290.00 694.25,290.00 694.25,294.00 697.00,294.00 697.00,298.00 699.75,298.00 699.75,298.80 702.50,298.80 702.50,298.00 705.25,298.00 705.25,303.00 708.00,303.00 708.00,304.00 710.75,304.00 710.75,308.00 713.50,308.00 713.50,311.00 716.25,311.00 716.25,315.00 719.00,315.00 719.00,319.60 721.75,319.60 721.75,323.00 724.50,323.00 724.50,325.60 727.25,325.60 727.25,326.60 730.00,326.60 730.00,327.20 732.75,327.20 732.75,328.50 735.50,328.50 735.50,328.50" fill="none" stroke="#0000ff" stroke-width="1.3" stroke-linejoin="miter" stroke-miterlimit="10"/>
<polyline points="598.00,328.50 598.00,321.00 600.75,321.00 600.75,321.60 603.50,321.60 603.50,319.60 606.25,319.60 606.25,314.00 609.00,314.00 609.00,308.00 611.75,308.00 611.75,299.60 614.50,299.60 614.50,287.60 617.25,287.60 617.25,283.60 620.00,283.60 620.00,271.50 622.75,271.50 622.75,264.70 625.50,264.70 625.50,257.00 628.25,257.00 628.25,248.50 631.00,248.50 631.00,245.40 633.75,245.40 633.75,240.50 636.50,240.50 636.50,238.90 639.25,238.90 639.25,238.60 642.00,238.60 642.00,239.90 644.75,239.90 644.75,243.60 647.50,243.60 647.50,240.80 650.25,240.80 650.25,244.20 653.00,244.20 653.00,250.30 655.75,250.30 655.75,252.80 658.50,252.80 658.50,254.60 661.25,254.60 661.25,255.90 664.00,255.90 664.00,261.40 666.75,261.40 666.75,267.00 669.50,267.00 669.50,273.30 672.25,273.30 672.25,276.60 675.00,276.60 675.00,278.00 677.75,278.00 677.75,280.00 680.50,280.00 680.50,287.00 683.25,287.00 683.25,292.00 686.00,292.00 686.00,296.00 688.75,296.00 688.75,300.40 691.50,300.40 691.50,304.60 694.25,304.60 694.25,308.00 697.00,308.00 697.00,310.60 699.75,310.60 699.75,313.60 702.50,313.60 702.50,316.40 705.25,316.40 705.25,319.00 708.00,319.00 708.00,321.60 710.75,321.60 710.75,323.60 713.50,323.60 713.50,325.20 716.25,325.20 716.25,326.00 719.00,326.00 719.00,326.80 721.75,326.80 721.75,327.20 724.50,327.20 724.50,328.50 727.25,328.50 727.25,328.50 730.00,328.50 730.00,328.50 732.75,328.50 732.75,328.50 735.50,328.50 735.50,328.50" fill="none" stroke="#ff0000" stroke-width="1.3" stroke-linejoin="miter" stroke-miterlimit="10"/>
</g>
<line x1="47.5" y1="4.0" x2="736.0" y2="4.0" stroke="#4a4a4a" stroke-width="1.2"/>
<line x1="48" y1="166.5" x2="735.5" y2="166.5" stroke="#4a4a4a" stroke-width="1.2"/>
<line x1="48" y1="4.0" x2="48" y2="329.0" stroke="#4a4a4a" stroke-width="1.2"/>
<line x1="185.5" y1="4.0" x2="185.5" y2="329.0" stroke="#4a4a4a" stroke-width="1.2"/>
<line x1="323" y1="4.0" x2="323" y2="329.0" stroke="#4a4a4a" stroke-width="1.2"/>
<line x1="460.5" y1="4.0" x2="460.5" y2="329.0" stroke="#4a4a4a" stroke-width="1.2"/>
<line x1="598" y1="4.0" x2="598" y2="329.0" stroke="#4a4a4a" stroke-width="1.2"/>
<line x1="735.5" y1="4.0" x2="735.5" y2="329.0" stroke="#4a4a4a" stroke-width="1.2"/>
<line x1="75.5" y1="4.0" x2="75.5" y2="6.2" stroke="#4a4a4a" stroke-width="1.2"/>
<line x1="75.5" y1="164.3" x2="75.5" y2="168.7" stroke="#4a4a4a" stroke-width="1.2"/>
<line x1="103.0" y1="4.0" x2="103.0" y2="6.2" stroke="#4a4a4a" stroke-width="1.2"/>
<line x1="103.0" y1="164.3" x2="103.0" y2="168.7" stroke="#4a4a4a" stroke-width="1.2"/>
<line x1="130.5" y1="4.0" x2="130.5" y2="6.2" stroke="#4a4a4a" stroke-width="1.2"/>
<line x1="130.5" y1="164.3" x2="130.5" y2="168.7" stroke="#4a4a4a" stroke-width="1.2"/>
<line x1="158.0" y1="4.0" x2="158.0" y2="6.2" stroke="#4a4a4a" stroke-width="1.2"/>
<line x1="158.0" y1="164.3" x2="158.0" y2="168.7" stroke="#4a4a4a" stroke-width="1.2"/>
<line x1="213.0" y1="4.0" x2="213.0" y2="6.2" stroke="#4a4a4a" stroke-width="1.2"/>
<line x1="213.0" y1="164.3" x2="213.0" y2="168.7" stroke="#4a4a4a" stroke-width="1.2"/>
<line x1="240.5" y1="4.0" x2="240.5" y2="6.2" stroke="#4a4a4a" stroke-width="1.2"/>
<line x1="240.5" y1="164.3" x2="240.5" y2="168.7" stroke="#4a4a4a" stroke-width="1.2"/>
<line x1="268.0" y1="4.0" x2="268.0" y2="6.2" stroke="#4a4a4a" stroke-width="1.2"/>
<line x1="268.0" y1="164.3" x2="268.0" y2="168.7" stroke="#4a4a4a" stroke-width="1.2"/>
<line x1="295.5" y1="4.0" x2="295.5" y2="6.2" stroke="#4a4a4a" stroke-width="1.2"/>
<line x1="295.5" y1="164.3" x2="295.5" y2="168.7" stroke="#4a4a4a" stroke-width="1.2"/>
<line x1="350.5" y1="4.0" x2="350.5" y2="6.2" stroke="#4a4a4a" stroke-width="1.2"/>
<line x1="350.5" y1="164.3" x2="350.5" y2="168.7" stroke="#4a4a4a" stroke-width="1.2"/>
<line x1="378.0" y1="4.0" x2="378.0" y2="6.2" stroke="#4a4a4a" stroke-width="1.2"/>
<line x1="378.0" y1="164.3" x2="378.0" y2="168.7" stroke="#4a4a4a" stroke-width="1.2"/>
<line x1="405.5" y1="4.0" x2="405.5" y2="6.2" stroke="#4a4a4a" stroke-width="1.2"/>
<line x1="405.5" y1="164.3" x2="405.5" y2="168.7" stroke="#4a4a4a" stroke-width="1.2"/>
<line x1="433.0" y1="4.0" x2="433.0" y2="6.2" stroke="#4a4a4a" stroke-width="1.2"/>
<line x1="433.0" y1="164.3" x2="433.0" y2="168.7" stroke="#4a4a4a" stroke-width="1.2"/>
<line x1="488.0" y1="4.0" x2="488.0" y2="6.2" stroke="#4a4a4a" stroke-width="1.2"/>
<line x1="488.0" y1="164.3" x2="488.0" y2="168.7" stroke="#4a4a4a" stroke-width="1.2"/>
<line x1="515.5" y1="4.0" x2="515.5" y2="6.2" stroke="#4a4a4a" stroke-width="1.2"/>
<line x1="515.5" y1="164.3" x2="515.5" y2="168.7" stroke="#4a4a4a" stroke-width="1.2"/>
<line x1="543.0" y1="4.0" x2="543.0" y2="6.2" stroke="#4a4a4a" stroke-width="1.2"/>
<line x1="543.0" y1="164.3" x2="543.0" y2="168.7" stroke="#4a4a4a" stroke-width="1.2"/>
<line x1="570.5" y1="4.0" x2="570.5" y2="6.2" stroke="#4a4a4a" stroke-width="1.2"/>
<line x1="570.5" y1="164.3" x2="570.5" y2="168.7" stroke="#4a4a4a" stroke-width="1.2"/>
<line x1="625.5" y1="4.0" x2="625.5" y2="6.2" stroke="#4a4a4a" stroke-width="1.2"/>
<line x1="625.5" y1="164.3" x2="625.5" y2="168.7" stroke="#4a4a4a" stroke-width="1.2"/>
<line x1="653.0" y1="4.0" x2="653.0" y2="6.2" stroke="#4a4a4a" stroke-width="1.2"/>
<line x1="653.0" y1="164.3" x2="653.0" y2="168.7" stroke="#4a4a4a" stroke-width="1.2"/>
<line x1="680.5" y1="4.0" x2="680.5" y2="6.2" stroke="#4a4a4a" stroke-width="1.2"/>
<line x1="680.5" y1="164.3" x2="680.5" y2="168.7" stroke="#4a4a4a" stroke-width="1.2"/>
<line x1="708.0" y1="4.0" x2="708.0" y2="6.2" stroke="#4a4a4a" stroke-width="1.2"/>
<line x1="708.0" y1="164.3" x2="708.0" y2="168.7" stroke="#4a4a4a" stroke-width="1.2"/>
<line x1="48" y1="125.875" x2="50" y2="125.875" stroke="#4a4a4a" stroke-width="1.2"/>
<line x1="48" y1="85.25" x2="50" y2="85.25" stroke="#4a4a4a" stroke-width="1.2"/>
<line x1="48" y1="44.625" x2="50" y2="44.625" stroke="#4a4a4a" stroke-width="1.2"/>
<line x1="48" y1="288.0" x2="50" y2="288.0" stroke="#4a4a4a" stroke-width="1.2"/>
<line x1="48" y1="247.5" x2="50" y2="247.5" stroke="#4a4a4a" stroke-width="1.2"/>
<line x1="48" y1="207.0" x2="50" y2="207.0" stroke="#4a4a4a" stroke-width="1.2"/>
<line x1="185.5" y1="125.875" x2="187.5" y2="125.875" stroke="#4a4a4a" stroke-width="1.2"/>
<line x1="183.5" y1="125.875" x2="185.5" y2="125.875" stroke="#4a4a4a" stroke-width="1.2"/>
<line x1="185.5" y1="85.25" x2="187.5" y2="85.25" stroke="#4a4a4a" stroke-width="1.2"/>
<line x1="183.5" y1="85.25" x2="185.5" y2="85.25" stroke="#4a4a4a" stroke-width="1.2"/>
<line x1="185.5" y1="44.625" x2="187.5" y2="44.625" stroke="#4a4a4a" stroke-width="1.2"/>
<line x1="183.5" y1="44.625" x2="185.5" y2="44.625" stroke="#4a4a4a" stroke-width="1.2"/>
<line x1="185.5" y1="288.0" x2="187.5" y2="288.0" stroke="#4a4a4a" stroke-width="1.2"/>
<line x1="183.5" y1="288.0" x2="185.5" y2="288.0" stroke="#4a4a4a" stroke-width="1.2"/>
<line x1="185.5" y1="247.5" x2="187.5" y2="247.5" stroke="#4a4a4a" stroke-width="1.2"/>
<line x1="183.5" y1="247.5" x2="185.5" y2="247.5" stroke="#4a4a4a" stroke-width="1.2"/>
<line x1="185.5" y1="207.0" x2="187.5" y2="207.0" stroke="#4a4a4a" stroke-width="1.2"/>
<line x1="183.5" y1="207.0" x2="185.5" y2="207.0" stroke="#4a4a4a" stroke-width="1.2"/>
<line x1="323" y1="125.875" x2="325" y2="125.875" stroke="#4a4a4a" stroke-width="1.2"/>
<line x1="321" y1="125.875" x2="323" y2="125.875" stroke="#4a4a4a" stroke-width="1.2"/>
<line x1="323" y1="85.25" x2="325" y2="85.25" stroke="#4a4a4a" stroke-width="1.2"/>
<line x1="321" y1="85.25" x2="323" y2="85.25" stroke="#4a4a4a" stroke-width="1.2"/>
<line x1="323" y1="44.625" x2="325" y2="44.625" stroke="#4a4a4a" stroke-width="1.2"/>
<line x1="321" y1="44.625" x2="323" y2="44.625" stroke="#4a4a4a" stroke-width="1.2"/>
<line x1="323" y1="288.0" x2="325" y2="288.0" stroke="#4a4a4a" stroke-width="1.2"/>
<line x1="321" y1="288.0" x2="323" y2="288.0" stroke="#4a4a4a" stroke-width="1.2"/>
<line x1="323" y1="247.5" x2="325" y2="247.5" stroke="#4a4a4a" stroke-width="1.2"/>
<line x1="321" y1="247.5" x2="323" y2="247.5" stroke="#4a4a4a" stroke-width="1.2"/>
<line x1="323" y1="207.0" x2="325" y2="207.0" stroke="#4a4a4a" stroke-width="1.2"/>
<line x1="321" y1="207.0" x2="323" y2="207.0" stroke="#4a4a4a" stroke-width="1.2"/>
<line x1="460.5" y1="125.875" x2="462.5" y2="125.875" stroke="#4a4a4a" stroke-width="1.2"/>
<line x1="458.5" y1="125.875" x2="460.5" y2="125.875" stroke="#4a4a4a" stroke-width="1.2"/>
<line x1="460.5" y1="85.25" x2="462.5" y2="85.25" stroke="#4a4a4a" stroke-width="1.2"/>
<line x1="458.5" y1="85.25" x2="460.5" y2="85.25" stroke="#4a4a4a" stroke-width="1.2"/>
<line x1="460.5" y1="44.625" x2="462.5" y2="44.625" stroke="#4a4a4a" stroke-width="1.2"/>
<line x1="458.5" y1="44.625" x2="460.5" y2="44.625" stroke="#4a4a4a" stroke-width="1.2"/>
<line x1="460.5" y1="288.0" x2="462.5" y2="288.0" stroke="#4a4a4a" stroke-width="1.2"/>
<line x1="458.5" y1="288.0" x2="460.5" y2="288.0" stroke="#4a4a4a" stroke-width="1.2"/>
<line x1="460.5" y1="247.5" x2="462.5" y2="247.5" stroke="#4a4a4a" stroke-width="1.2"/>
<line x1="458.5" y1="247.5" x2="460.5" y2="247.5" stroke="#4a4a4a" stroke-width="1.2"/>
<line x1="460.5" y1="207.0" x2="462.5" y2="207.0" stroke="#4a4a4a" stroke-width="1.2"/>
<line x1="458.5" y1="207.0" x2="460.5" y2="207.0" stroke="#4a4a4a" stroke-width="1.2"/>
<line x1="598" y1="125.875" x2="600" y2="125.875" stroke="#4a4a4a" stroke-width="1.2"/>
<line x1="596" y1="125.875" x2="598" y2="125.875" stroke="#4a4a4a" stroke-width="1.2"/>
<line x1="598" y1="85.25" x2="600" y2="85.25" stroke="#4a4a4a" stroke-width="1.2"/>
<line x1="596" y1="85.25" x2="598" y2="85.25" stroke="#4a4a4a" stroke-width="1.2"/>
<line x1="598" y1="44.625" x2="600" y2="44.625" stroke="#4a4a4a" stroke-width="1.2"/>
<line x1="596" y1="44.625" x2="598" y2="44.625" stroke="#4a4a4a" stroke-width="1.2"/>
<line x1="598" y1="288.0" x2="600" y2="288.0" stroke="#4a4a4a" stroke-width="1.2"/>
<line x1="596" y1="288.0" x2="598" y2="288.0" stroke="#4a4a4a" stroke-width="1.2"/>
<line x1="598" y1="247.5" x2="600" y2="247.5" stroke="#4a4a4a" stroke-width="1.2"/>
<line x1="596" y1="247.5" x2="598" y2="247.5" stroke="#4a4a4a" stroke-width="1.2"/>
<line x1="598" y1="207.0" x2="600" y2="207.0" stroke="#4a4a4a" stroke-width="1.2"/>
<line x1="596" y1="207.0" x2="598" y2="207.0" stroke="#4a4a4a" stroke-width="1.2"/>
<line x1="733.5" y1="125.875" x2="735.5" y2="125.875" stroke="#4a4a4a" stroke-width="1.2"/>
<line x1="733.5" y1="85.25" x2="735.5" y2="85.25" stroke="#4a4a4a" stroke-width="1.2"/>
<line x1="733.5" y1="44.625" x2="735.5" y2="44.625" stroke="#4a4a4a" stroke-width="1.2"/>
<line x1="733.5" y1="288.0" x2="735.5" y2="288.0" stroke="#4a4a4a" stroke-width="1.2"/>
<line x1="733.5" y1="247.5" x2="735.5" y2="247.5" stroke="#4a4a4a" stroke-width="1.2"/>
<line x1="733.5" y1="207.0" x2="735.5" y2="207.0" stroke="#4a4a4a" stroke-width="1.2"/>
<rect x="600.8" y="171.6" width="89.6" height="32.3" fill="#fff" stroke="#333" stroke-width="1"/>
<line x1="603" y1="180.2" x2="621" y2="180.2" stroke="#0000ff" stroke-width="1.3"/>
<line x1="603" y1="195.6" x2="621" y2="195.6" stroke="#ff0000" stroke-width="1.3"/>
<text x="622.8" y="184.8" class="lg" textLength="54.2" lengthAdjust="spacingAndGlyphs">Simulation</text>
<text x="622.8" y="200.0" class="lg" textLength="61.3" lengthAdjust="spacingAndGlyphs">Observation</text>
<text transform="translate(29.60,9.70) scale(1,1.14)" text-anchor="middle" class="tk">0.08</text>
<text transform="translate(29.60,50.20) scale(1,1.14)" text-anchor="middle" class="tk">0.06</text>
<text transform="translate(29.60,90.80) scale(1,1.14)" text-anchor="middle" class="tk">0.04</text>
<text transform="translate(29.60,131.40) scale(1,1.14)" text-anchor="middle" class="tk">0.02</text>
<text transform="translate(29.60,171.90) scale(1,1.14)" text-anchor="middle" class="tk">0</text>
<text transform="translate(29.60,212.60) scale(1,1.14)" text-anchor="middle" class="tk">0.06</text>
<text transform="translate(29.60,253.10) scale(1,1.14)" text-anchor="middle" class="tk">0.04</text>
<text transform="translate(29.60,293.60) scale(1,1.14)" text-anchor="middle" class="tk">0.02</text>
<text transform="translate(29.60,334.10) scale(1,1.14)" text-anchor="middle" class="tk">0</text>
<text transform="translate(44.10,345.80) scale(1,1.12)" text-anchor="middle" class="tk">0</text>
<text transform="translate(74.50,345.80) scale(1,1.12)" text-anchor="middle" class="tk">0.2</text>
<text transform="translate(102.00,345.80) scale(1,1.12)" text-anchor="middle" class="tk">0.4</text>
<text transform="translate(129.50,345.80) scale(1,1.12)" text-anchor="middle" class="tk">0.6</text>
<text transform="translate(157.00,345.80) scale(1,1.12)" text-anchor="middle" class="tk">0.8</text>
<text transform="translate(181.60,345.80) scale(1,1.12)" text-anchor="middle" class="tk">0</text>
<text transform="translate(212.00,345.80) scale(1,1.12)" text-anchor="middle" class="tk">0.2</text>
<text transform="translate(239.50,345.80) scale(1,1.12)" text-anchor="middle" class="tk">0.4</text>
<text transform="translate(267.00,345.80) scale(1,1.12)" text-anchor="middle" class="tk">0.6</text>
<text transform="translate(294.50,345.80) scale(1,1.12)" text-anchor="middle" class="tk">0.8</text>
<text transform="translate(319.10,345.80) scale(1,1.12)" text-anchor="middle" class="tk">0</text>
<text transform="translate(349.50,345.80) scale(1,1.12)" text-anchor="middle" class="tk">0.2</text>
<text transform="translate(377.00,345.80) scale(1,1.12)" text-anchor="middle" class="tk">0.4</text>
<text transform="translate(404.50,345.80) scale(1,1.12)" text-anchor="middle" class="tk">0.6</text>
<text transform="translate(432.00,345.80) scale(1,1.12)" text-anchor="middle" class="tk">0.8</text>
<text transform="translate(456.60,345.80) scale(1,1.12)" text-anchor="middle" class="tk">0</text>
<text transform="translate(487.00,345.80) scale(1,1.12)" text-anchor="middle" class="tk">0.2</text>
<text transform="translate(514.50,345.80) scale(1,1.12)" text-anchor="middle" class="tk">0.4</text>
<text transform="translate(542.00,345.80) scale(1,1.12)" text-anchor="middle" class="tk">0.6</text>
<text transform="translate(569.50,345.80) scale(1,1.12)" text-anchor="middle" class="tk">0.8</text>
<text transform="translate(594.10,345.80) scale(1,1.12)" text-anchor="middle" class="tk">0</text>
<text transform="translate(624.50,345.80) scale(1,1.12)" text-anchor="middle" class="tk">0.2</text>
<text transform="translate(652.00,345.80) scale(1,1.12)" text-anchor="middle" class="tk">0.4</text>
<text transform="translate(679.50,345.80) scale(1,1.12)" text-anchor="middle" class="tk">0.6</text>
<text transform="translate(707.00,345.80) scale(1,1.12)" text-anchor="middle" class="tk">0.8</text>
<text transform="translate(731.60,345.80) scale(1,1.12)" text-anchor="middle" class="tk">1</text>
<text transform="translate(180.80,19.30) scale(1,1.03)" text-anchor="end" class="tk">317nm</text>
<text transform="translate(318.30,19.30) scale(1,1.03)" text-anchor="end" class="tk">325nm</text>
<text transform="translate(455.80,19.30) scale(1,1.03)" text-anchor="end" class="tk">340nm</text>
<text transform="translate(593.30,19.30) scale(1,1.03)" text-anchor="end" class="tk">388nm</text>
<text transform="translate(730.80,19.30) scale(1,1.03)" text-anchor="end" class="tk">443nm</text>
<text transform="translate(180.80,181.80) scale(1,1.03)" text-anchor="end" class="tk">551nm</text>
<text transform="translate(318.30,181.80) scale(1,1.03)" text-anchor="end" class="tk">680nm</text>
<text transform="translate(455.80,181.80) scale(1,1.03)" text-anchor="end" class="tk">688nm</text>
<text transform="translate(593.30,181.80) scale(1,1.03)" text-anchor="end" class="tk">764nm</text>
<text transform="translate(730.80,181.80) scale(1,1.03)" text-anchor="end" class="tk">780nm</text>
<text x="381.3" y="364.6" text-anchor="middle" class="lab" textLength="167" lengthAdjust="spacingAndGlyphs">Ice Cloud Pixel Reflectance</text>
<text transform="translate(9.9,168.4) rotate(-90)" text-anchor="middle" class="lab" textLength="68" lengthAdjust="spacingAndGlyphs">Probability</text>
</g>
</svg></body></html>
